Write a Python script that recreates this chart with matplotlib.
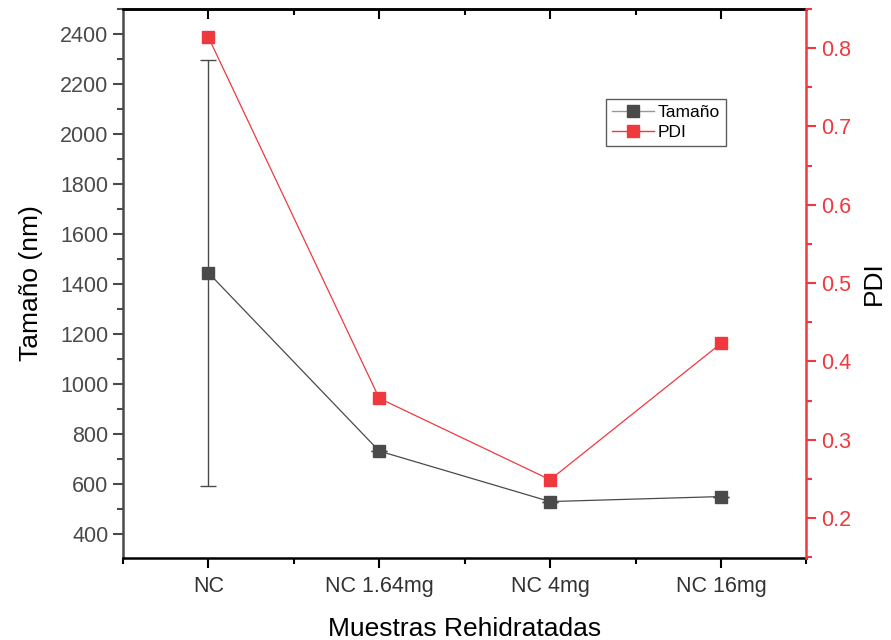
import matplotlib.pyplot as plt
from matplotlib.lines import Line2D
from matplotlib.ticker import MultipleLocator

plt.rcParams['font.family'] = ['Liberation Sans', 'DejaVu Sans']

muestras = ['NC', 'NC 1.64mg', 'NC 4mg', 'NC 16mg']
tamano = [1445, 732, 530, 550]
tamano_err = [852, 0, 0, 0]
pdi = [0.814, 0.353, 0.249, 0.423]

gris = '#4a4a4a'
rojo = '#f0393f'
x = list(range(1, len(muestras) + 1))

fig = plt.figure(figsize=(8.91, 6.4), dpi=100)
ax = fig.add_axes([0.138, 0.128, 0.767, 0.858])

ax.errorbar(x, tamano, yerr=tamano_err, color=gris, lw=0.9, marker='s', ms=8,
            mfc=gris, mec=gris, ecolor=gris, elinewidth=1, capsize=6, capthick=1,
            zorder=3)
ax.set_xlim(0.5, 4.5)
ax.set_ylim(304, 2500)
ax.set_xticks(x)
ax.set_xticklabels(muestras)
ax.xaxis.set_minor_locator(plt.FixedLocator([0.5, 1.5, 2.5, 3.5, 4.5]))
ax.yaxis.set_major_locator(MultipleLocator(200))
ax.yaxis.set_minor_locator(MultipleLocator(100))
ax.tick_params(axis='y', which='major', length=7, width=1.5, colors=gris, labelsize=15.5)
ax.tick_params(axis='y', which='minor', length=4, width=1.5, colors=gris)
ax.tick_params(axis='x', which='major', length=7, width=1.5, colors='black', labelsize=15.5,
               labelcolor='#333333', pad=6)
ax.tick_params(axis='x', which='minor', length=4, width=1.5, colors='black')
ax.set_ylabel('Tamaño (nm)', fontsize=19, labelpad=12)
ax.set_xlabel('Muestras Rehidratadas', fontsize=19, labelpad=14)
ax.spines['left'].set_color(gris)
ax.spines['left'].set_linewidth(1.8)
ax.spines['bottom'].set_linewidth(1.8)
ax.spines['top'].set_linewidth(1.8)
ax.spines['right'].set_visible(False)

# top axis with inward ticks, no labels
top = ax.secondary_xaxis('top')
top.set_xticks(x)
top.xaxis.set_minor_locator(plt.FixedLocator([1.5, 2.5, 3.5]))
top.tick_params(axis='x', which='major', direction='in', length=7, width=1.5, labeltop=False)
top.tick_params(axis='x', which='minor', direction='in', length=4, width=1.5)
top.spines['top'].set_linewidth(1.8)

ax2 = ax.twinx()
ax2.plot(x, pdi, color=rojo, lw=0.9, marker='s', ms=8, mfc=rojo, mec=rojo, zorder=3)
ax2.set_ylim(0.149, 0.85)
ax2.yaxis.set_major_locator(MultipleLocator(0.1))
ax2.yaxis.set_minor_locator(MultipleLocator(0.05))
ax2.tick_params(axis='y', which='major', length=7, width=1.5, colors=rojo, labelsize=15.5)
ax2.tick_params(axis='y', which='minor', length=4, width=1.5, colors=rojo)
ax2.set_ylabel('PDI', fontsize=19, labelpad=8)
for s in ['left', 'top', 'bottom']:
    ax2.spines[s].set_visible(False)
ax2.spines['right'].set_color(rojo)
ax2.spines['right'].set_linewidth(1.8)

handles = [Line2D([], [], color='#999999', lw=1, marker='s', ms=8, mfc=gris, mec=gris),
           Line2D([], [], color=rojo, lw=1, marker='s', ms=8, mfc=rojo, mec=rojo)]
leg = ax2.legend(handles, ['Tamaño', 'PDI'], loc='upper right', bbox_to_anchor=(0.883, 0.836),
                 fontsize=12.5, frameon=True, fancybox=False, edgecolor='#333333',
                 handlelength=2.4, handletextpad=0.25, borderpad=0.35, labelspacing=0.25,
                 borderaxespad=0)
leg.get_frame().set_linewidth(1.0)

fig.savefig('out.png', dpi=100)
